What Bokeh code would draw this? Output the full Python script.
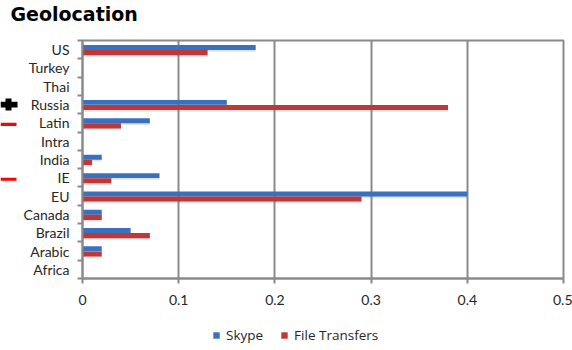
from bokeh.plotting import figure
from bokeh.layouts import column, row
from bokeh.models import (Range1d, FixedTicker, Legend, LegendItem, Label,
                          ColumnDataSource)
from bokeh.embed import file_html
from bokeh.resources import INLINE

# Share of traffic per region
regions = ["US", "Turkey", "Thai", "Russia", "Latin", "Intra", "India",
           "IE", "EU", "Canada", "Brazil", "Arabic", "Africa"]
skype = [0.18, 0, 0, 0.15, 0.07, 0, 0.02, 0.08, 0.40, 0.02, 0.05, 0.02, 0]
file_transfers = [0.13, 0, 0, 0.38, 0.04, 0, 0.01, 0.03, 0.29, 0.02, 0.07, 0.02, 0]

x_ticks = [0, 0.1, 0.2, 0.3, 0.4, 0.5]
x_tick_labels = ["0", "0.1", "0.2", "0.3", "0.4", "0.5"]

# Hand-drawn +/- markers next to some rows
plus_rows = ["Russia"]
minus_rows = ["Latin", "IE"]

BLUE = "#3A70C0"
RED = "#BE3838"
GRID = "#8A8A8A"
TEXT = "#262626"
LABEL_FONT = "Lato"

row_pos = {name: i + 0.5 for i, name in enumerate(regions)}
centers = [row_pos[r] for r in regions]
bounds = [float(i) for i in range(len(regions) + 1)]
y_range = Range1d(len(regions), 0)

# ---- title strip -------------------------------------------------------
head = figure(width=572, height=38, output_backend="svg", toolbar_location=None,
              x_range=Range1d(0, 572), y_range=Range1d(38, 0),
              x_axis_type=None, y_axis_type=None,
              min_border=0, outline_line_color=None)
head.grid.visible = False
head.add_layout(Label(x=10, y=13.5, text="Geolocation", text_baseline="alphabetic",
                      text_font="DejaVu Sans", text_font_style="bold",
                      text_font_size="19px", text_color="#000000"))

# ---- marker strip left of the labels ------------------------------------
marks = figure(width=20, height=276, output_backend="svg", toolbar_location=None,
               x_range=Range1d(0, 20), y_range=y_range,
               x_axis_type=None, y_axis_type=None,
               min_border_left=0, min_border_right=0,
               min_border_top=2, min_border_bottom=36,
               outline_line_color=None)
marks.grid.visible = False
plus_y = [row_pos[r] for r in plus_rows]
minus_y = [row_pos[r] + 0.08 for r in minus_rows]
marks.rect(x=8, y=plus_y, width=6, height=0.66, fill_color="black",
           line_color=None)
marks.rect(x=8.5, y=plus_y, width=17, height=0.31, fill_color="black",
           line_color=None)
marks.rect(x=8, y=minus_y, width=16, height=0.17, fill_color="#FF0000",
           line_color=None)

# ---- main bar chart ----------------------------------------------------
src = ColumnDataSource(dict(
    y_sk=[c - 0.12 for c in centers],
    y_ft=[c + 0.16 for c in centers],
    skype=skype,
    ft=file_transfers,
))
shadow_src = ColumnDataSource(dict(
    y_sk=[c - 0.12 + 0.09 for c in centers],
    y_ft=[c + 0.16 + 0.09 for c in centers],
    skype=skype,
    ft=file_transfers,
))

p = figure(width=552, height=276, output_backend="svg", toolbar_location=None,
           x_range=Range1d(0, 0.5), y_range=y_range,
           min_border_left=62, min_border_right=9, min_border_top=2,
           min_border_bottom=36)

# soft drop shadow under the bars
for col, ycol in (("skype", "y_sk"), ("ft", "y_ft")):
    p.hbar(y=ycol, left=0, right=col, height=0.28, source=shadow_src,
           fill_color="#808080", fill_alpha=0.22, line_color=None)

r_sk = p.hbar(y="y_sk", left=0, right="skype", height=0.27, source=src,
              fill_color=BLUE, line_color=None)
r_ft = p.hbar(y="y_ft", left=0, right="ft", height=0.28, source=src,
              fill_color=RED, line_color=None)

p.xaxis.ticker = FixedTicker(ticks=x_ticks)
p.xaxis.major_label_overrides = dict(zip(x_ticks, x_tick_labels))
p.xaxis.major_tick_out = 5
p.xaxis.major_tick_in = 0
p.xaxis.minor_tick_line_color = None
p.xaxis.axis_line_color = GRID
p.xaxis.axis_line_width = 2
p.xaxis.major_tick_line_color = GRID
p.xaxis.major_tick_line_width = 2
p.xaxis.major_label_standoff = 11
p.xaxis.major_label_text_font = LABEL_FONT
p.xaxis.major_label_text_font_size = "14px"
p.xaxis.major_label_text_color = TEXT

p.yaxis.ticker = FixedTicker(ticks=centers, minor_ticks=bounds)
p.yaxis.major_label_overrides = {c: r for c, r in zip(centers, regions)}
p.yaxis.major_tick_out = 0
p.yaxis.major_tick_in = 0
p.yaxis.minor_tick_out = 5
p.yaxis.minor_tick_in = 0
p.yaxis.minor_tick_line_color = GRID
p.yaxis.minor_tick_line_width = 2
p.yaxis.axis_line_color = GRID
p.yaxis.axis_line_width = 2
p.yaxis.major_label_standoff = 8
p.yaxis.major_label_text_font = LABEL_FONT
p.yaxis.major_label_text_font_size = "14px"
p.yaxis.major_label_text_color = TEXT

p.xgrid.ticker = FixedTicker(ticks=x_ticks)
p.xgrid.grid_line_color = GRID
p.xgrid.grid_line_width = 2
p.ygrid.grid_line_color = None
p.outline_line_color = GRID
p.outline_line_width = 2

# ---- legend strip ------------------------------------------------------
# swatch renderers sit below the visible range; only their legend entries show
foot = figure(width=572, height=36, output_backend="svg", toolbar_location=None,
              x_range=Range1d(0, 1), y_range=Range1d(0, 1),
              x_axis_type=None, y_axis_type=None,
              min_border=0, outline_line_color=None)
foot.grid.visible = False
sw_sk = foot.hbar(y=[-10], left=[0], right=[skype[0]], height=1,
                  fill_color=BLUE, line_color=None)
sw_ft = foot.hbar(y=[-10], left=[0], right=[file_transfers[0]], height=1,
                  fill_color=RED, line_color=None)
foot.add_layout(Legend(items=[LegendItem(label="Skype", renderers=[sw_sk]),
                              LegendItem(label="File Transfers", renderers=[sw_ft])],
                       orientation="horizontal", location=(212, 6),
                       glyph_width=8, glyph_height=8, label_standoff=6, spacing=17,
                       label_text_font="Open Sans", label_text_font_size="13.5px",
                       label_text_color=TEXT, border_line_color=None,
                       background_fill_alpha=0, margin=0, padding=0))

layout = column(head, row(marks, p), foot)

open("out.html", "w").write(file_html(layout, INLINE))
